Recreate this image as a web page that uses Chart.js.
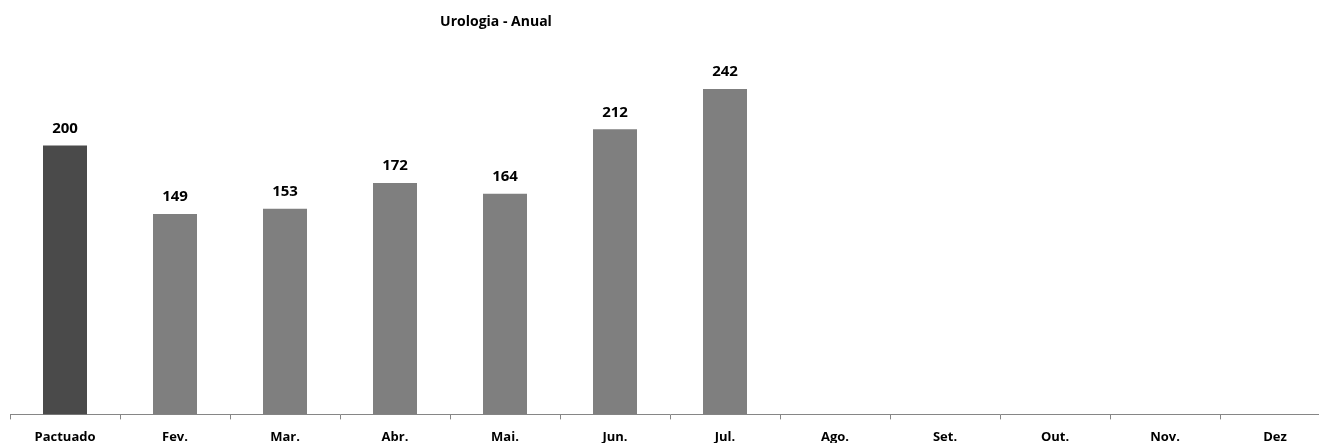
<!DOCTYPE html>
<html>
<head>
<meta charset="utf-8">
<script src="https://cdn.jsdelivr.net/npm/chart.js@4.4.0/dist/chart.umd.min.js"></script>
<style>
html,body{margin:0;padding:0;background:#fff;overflow:hidden;}
#wrap{position:relative;width:1340px;height:455px;}
</style>
</head>
<body>
<div id="wrap"><canvas id="c"></canvas></div>
<script>
const categories = ['Pactuado','Fev.','Mar.','Abr.','Mai.','Jun.','Jul.','Ago.','Set.','Out.','Nov.','Dez'];
const values = [200,149,153,172,164,212,242,null,null,null,null,null];
const barColors = ['#4a4a4a','#7f7f7f','#7f7f7f','#7f7f7f','#7f7f7f','#7f7f7f','#7f7f7f','#7f7f7f','#7f7f7f','#7f7f7f','#7f7f7f','#7f7f7f'];
const titleText = 'Urologia - Anual';

const FONT = '"Open Sans", Lato, sans-serif';

const valueLabels = {
  id: 'valueLabels',
  afterDatasetsDraw(chart) {
    const ctx = chart.ctx;
    const meta = chart.getDatasetMeta(0);
    ctx.save();
    ctx.font = 'bold 15px ' + FONT;
    ctx.fillStyle = '#000';
    ctx.textAlign = 'center';
    ctx.textBaseline = 'middle';
    meta.data.forEach((el, i) => {
      const v = values[i];
      if (v === null || v === undefined) return;
      ctx.fillText(String(v), el.x, el.y - 17);
    });
    ctx.restore();
  }
};

const titlePlugin = {
  id: 'customTitle',
  afterDraw(chart) {
    const ctx = chart.ctx;
    ctx.save();
    ctx.font = 'bold 14px ' + FONT;
    ctx.fillStyle = '#000';
    ctx.textAlign = 'center';
    ctx.textBaseline = 'middle';
    ctx.fillText(titleText, 496, 22);
    ctx.restore();
  }
};

new Chart(document.getElementById('c'), {
  type: 'bar',
  data: {
    labels: categories,
    datasets: [{
      data: values,
      backgroundColor: barColors,
      borderWidth: 0,
      barPercentage: 0.4,
      categoryPercentage: 1.0
    }]
  },
  options: {
    responsive: true,
    maintainAspectRatio: false,
    animation: false,
    layout: { padding: { top: 11, left: 10, right: 10, bottom: 0 } },
    plugins: {
      legend: { display: false },
      title: { display: false },
      tooltip: { enabled: false }
    },
    scales: {
      x: {
        offset: true,
        grid: {
          offset: true,
          drawOnChartArea: false,
          drawTicks: true,
          tickLength: 5,
          color: '#868686'
        },
        border: { display: true, color: '#868686', width: 1 },
        ticks: {
          color: '#000',
          font: { family: FONT, size: 13, weight: 'bold' },
          padding: 10,
          maxRotation: 0,
          autoSkip: false
        }
      },
      y: {
        display: false,
        min: 0,
        max: 300
      }
    }
  },
  plugins: [valueLabels, titlePlugin]
});
</script>
</body>
</html>
